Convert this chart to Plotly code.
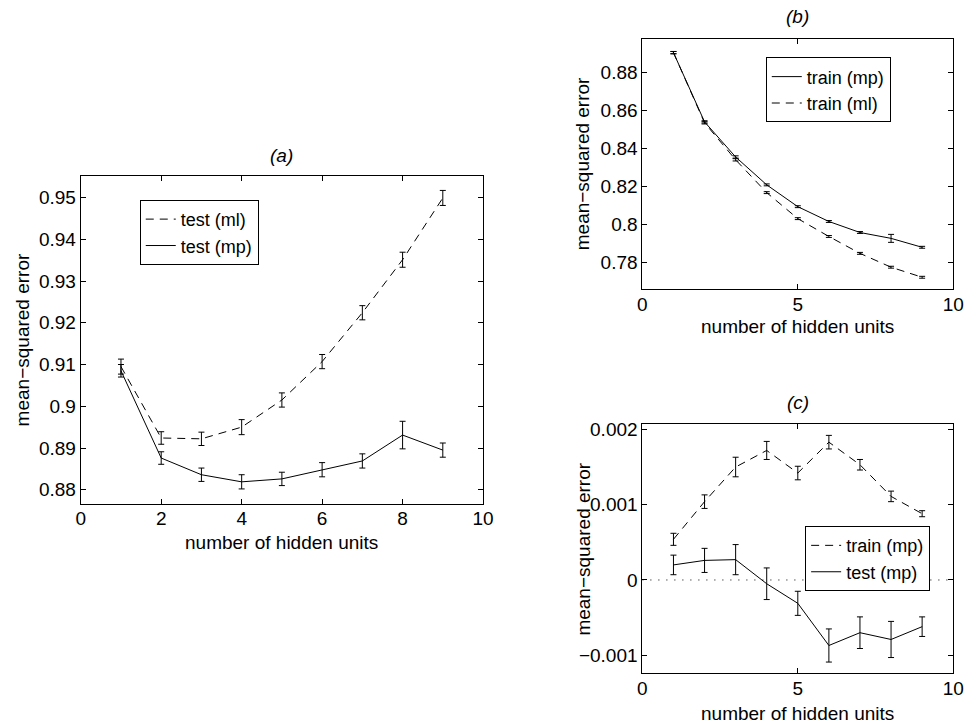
import plotly.graph_objects as go

# ---------------- data ----------------
hidden_units = [1, 2, 3, 4, 5, 6, 7, 8, 9]

# panel (a): test error
a_test_ml = [0.9095, 0.8924, 0.8922, 0.8950, 0.9015, 0.9107, 0.9224, 0.9351, 0.9499]
a_test_ml_err = [0.0018, 0.0015, 0.0016, 0.0018, 0.0017, 0.0017, 0.0017, 0.0018, 0.0018]
a_test_mp = [0.9085, 0.8876, 0.8836, 0.8819, 0.8826, 0.8848, 0.8869, 0.8931, 0.8895]
a_test_mp_err = [0.0015, 0.0015, 0.0016, 0.0017, 0.0016, 0.0017, 0.0017, 0.0033, 0.0017]

# panel (b): train error
b_train_mp = [0.8905, 0.8540, 0.8355, 0.8208, 0.8093, 0.8015, 0.7957, 0.7926, 0.7879]
b_train_mp_err = [0.0006, 0.0006, 0.0006, 0.0005, 0.0005, 0.0005, 0.0005, 0.0021, 0.0005]
b_train_ml = [0.8905, 0.8535, 0.8340, 0.8167, 0.8030, 0.7936, 0.7847, 0.7774, 0.7721]
b_train_ml_err = [0.0006, 0.0006, 0.0006, 0.0005, 0.0005, 0.0005, 0.0005, 0.0005, 0.0005]

# panel (c): differences
c_train_mp = [0.00054, 0.00104, 0.00150, 0.00172, 0.00142, 0.00183, 0.00153, 0.00111, 0.00088]
c_train_mp_err = [0.00008, 0.00009, 0.00013, 0.00012, 0.00009, 0.00009, 0.00007, 0.00007, 0.00004]
c_test_mp = [0.00020, 0.00026, 0.00027, -0.00005, -0.00031, -0.00087, -0.00070, -0.00079, -0.00062]
c_test_mp_err = [0.00013, 0.00016, 0.00020, 0.00021, 0.00016, 0.00022, 0.00021, 0.00024, 0.00013]

a_xticks = [0, 2, 4, 6, 8, 10]
bc_xticks = [0, 5, 10]
a_yticks = [0.88, 0.89, 0.90, 0.91, 0.92, 0.93, 0.94, 0.95]
a_yticklabels = ["0.88", "0.89", "0.9", "0.91", "0.92", "0.93", "0.94", "0.95"]
b_yticks = [0.78, 0.80, 0.82, 0.84, 0.86, 0.88]
b_yticklabels = ["0.78", "0.8", "0.82", "0.84", "0.86", "0.88"]
c_yticks = [-0.001, 0, 0.001, 0.002]
c_yticklabels = ["\u22120.001", "0", "0.001", "0.002"]

# ---------------- layout helpers ----------------
W, H = 977, 725
FONT = "Liberation Sans, Arial, Helvetica, sans-serif"
FS = 19
LFS = 18
DASH = "8px,6px"


def px_x(p):
    return p / W


def px_y(p):
    return (H - p) / H


fig = go.Figure()


def add_series(x, y, err, name, dash, xa, ya, legend):
    fig.add_trace(go.Scatter(
        x=x, y=y, name=name, mode="lines",
        line=dict(color="black", width=1, dash=dash),
        error_y=dict(type="data", array=err, visible=True, color="black",
                     thickness=1, width=3),
        xaxis=xa, yaxis=ya, legend=legend, hoverinfo="skip",
    ))


add_series(hidden_units, a_test_ml, a_test_ml_err, "test (ml)", DASH, "x", "y", "legend")
add_series(hidden_units, a_test_mp, a_test_mp_err, "test (mp)", "solid", "x", "y", "legend")
add_series(hidden_units, b_train_mp, b_train_mp_err, "train (mp)", "solid", "x2", "y2", "legend2")
add_series(hidden_units, b_train_ml, b_train_ml_err, "train (ml)", DASH, "x2", "y2", "legend2")
add_series(hidden_units, c_train_mp, c_train_mp_err, "train (mp)", DASH, "x3", "y3", "legend3")
add_series(hidden_units, c_test_mp, c_test_mp_err, "test (mp)", "solid", "x3", "y3", "legend3")

axis_common = dict(
    showline=True, linecolor="black", linewidth=1, mirror="ticks",
    ticks="inside", ticklen=5, tickwidth=1, tickcolor="black",
    showgrid=False, zeroline=False,
    tickfont=dict(family=FONT, size=FS, color="black"),
)
xaxis_common = dict(axis_common, ticklabelstandoff=-2)

fig.update_layout(
    width=W, height=H,
    margin=dict(l=0, r=0, t=0, b=0),
    paper_bgcolor="white", plot_bgcolor="white",
    font=dict(family=FONT, size=FS, color="black"),
    xaxis=dict(domain=[px_x(77), px_x(486)], range=[0, 10], tickvals=a_xticks,
               anchor="y", **xaxis_common),
    yaxis=dict(domain=[px_y(502), px_y(172)], range=[0.8767, 0.9552],
               tickvals=a_yticks, ticktext=a_yticklabels, anchor="x", **axis_common),
    xaxis2=dict(domain=[px_x(648), px_x(964)], range=[0, 10], tickvals=bc_xticks,
                anchor="y2", **xaxis_common),
    yaxis2=dict(domain=[px_y(286), px_y(34)], range=[0.7659, 0.8978],
                tickvals=b_yticks, ticktext=b_yticklabels, anchor="x2", **axis_common),
    xaxis3=dict(domain=[px_x(648), px_x(964)], range=[0, 10], tickvals=bc_xticks,
                anchor="y3", **xaxis_common),
    yaxis3=dict(domain=[px_y(673), px_y(422)], range=[-0.00124, 0.00207],
                tickvals=c_yticks, ticktext=c_yticklabels, anchor="x3", **axis_common),
)

legend_common = dict(
    bgcolor="white", bordercolor="black", borderwidth=1,
    font=dict(family=FONT, size=LFS, color="black"),
    xanchor="center", yanchor="middle", tracegroupgap=0,
    itemwidth=30,
)
fig.update_layout(
    legend=dict(x=px_x(197.5), y=px_y(229), **legend_common),
    legend2=dict(x=px_x(837), y=px_y(85.5), **legend_common),
    legend3=dict(x=px_x(877), y=px_y(557.5), **legend_common),
)

# dotted zero reference line in panel (c)
fig.add_shape(type="line", xref="x3", yref="y3", x0=0, x1=10, y0=0, y1=0,
              line=dict(color="black", width=1, dash="1px,7px"), layer="below")

# titles and axis labels
def ann(text, x, y, italic=False, angle=0):
    fig.add_annotation(
        text=f"<i>{text}</i>" if italic else text,
        x=px_x(x), y=px_y(y), xref="paper", yref="paper",
        showarrow=False, xanchor="center", yanchor="middle",
        textangle=angle, font=dict(family=FONT, size=FS, color="black"),
    )

ann("(a)", 281.5, 152, italic=True)
ann("(b)", 806, 12, italic=True)
ann("(c)", 806, 400, italic=True)
ann("number of hidden units", 281.5, 541)
ann("number of hidden units", 806, 324)
ann("number of hidden units", 806, 713)
ann("mean\u2212squared error", 18, 337, angle=-90)
ann("mean\u2212squared error", 588, 160, angle=-90)
ann("mean\u2212squared error", 588, 548, angle=-90)

fig.write_html(
    "out.html",
    config={"displayModeBar": False},
    post_script="document.body.style.margin='0';document.body.style.overflow='hidden';",
)
